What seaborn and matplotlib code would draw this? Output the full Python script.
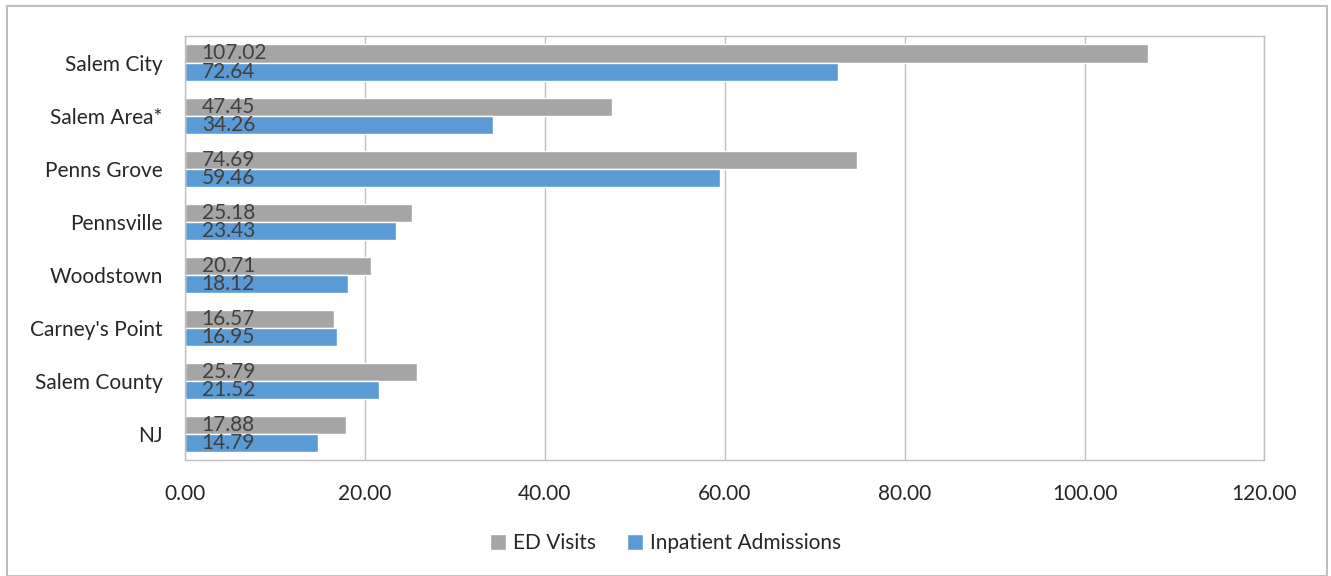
import pandas as pd
import matplotlib.pyplot as plt
import matplotlib.patches as mpatches
import seaborn as sns

# dados
places = ["Salem City", "Salem Area*", "Penns Grove", "Pennsville", "Woodstown",
          "Carney's Point", "Salem County", "NJ"]
ed_visits = [107.02, 47.45, 74.69, 25.18, 20.71, 16.57, 25.79, 17.88]
inpatient = [72.64, 34.26, 59.46, 23.43, 18.12, 16.95, 21.52, 14.79]
series = ["ED Visits", "Inpatient Admissions"]
colors = ["#A5A5A5", "#5B9BD5"]

df = pd.DataFrame({
    "place": places * 2,
    "value": ed_visits + inpatient,
    "series": [series[0]] * len(places) + [series[1]] * len(places),
})

sns.set_theme(style="white")
plt.rcParams['font.family'] = ['Lato', 'DejaVu Sans']
fs = 15

fig = plt.figure(figsize=(13.31, 5.76), dpi=100)
ax = fig.add_axes([0.139, 0.201, 0.811, 0.7365])

sns.barplot(data=df, x="value", y="place", hue="series", order=places,
            hue_order=series, palette=colors, orient="h", width=0.68,
            saturation=1, ax=ax, legend=True)

# rótulos de valor dentro das barras
for cont in ax.containers:
    for bar in cont:
        ax.annotate(f"{bar.get_width():.2f}",
                    (0, bar.get_y() + bar.get_height() / 2),
                    xytext=(12, 0), textcoords="offset points",
                    ha="left", va="center", fontsize=fs, color="#404040")

ax.set_xlim(0, 120)
ax.set_xticks(range(0, 121, 20))
ax.set_xticklabels([f"{v:.2f}" for v in range(0, 121, 20)], fontsize=fs)
ax.tick_params(axis="y", labelsize=fs, length=0, pad=16)
ax.tick_params(axis="x", length=0, pad=17)
ax.set_xlabel("")
ax.set_ylabel("")
ax.xaxis.grid(True, color="#BFBFBF", linewidth=1)
ax.set_axisbelow(True)
for s in ax.spines.values():
    s.set_color("#BFBFBF")
    s.set_linewidth(1)

ax.legend(loc="center", ncol=2, frameon=False, fontsize=fs, handlelength=0.75,
          handleheight=0.75, columnspacing=1.5, handletextpad=0.35)
leg = ax.get_legend()
leg.set_bbox_to_anchor((0.5, 0.057), transform=fig.transFigure)

# borda externa
fig.patches.append(mpatches.Rectangle((7 / 1331, 0), 1320 / 1331, 570 / 576,
                                      transform=fig.transFigure, fill=False,
                                      edgecolor="#BFBFBF", linewidth=1.5))

plt.savefig("out.png", dpi=100)
